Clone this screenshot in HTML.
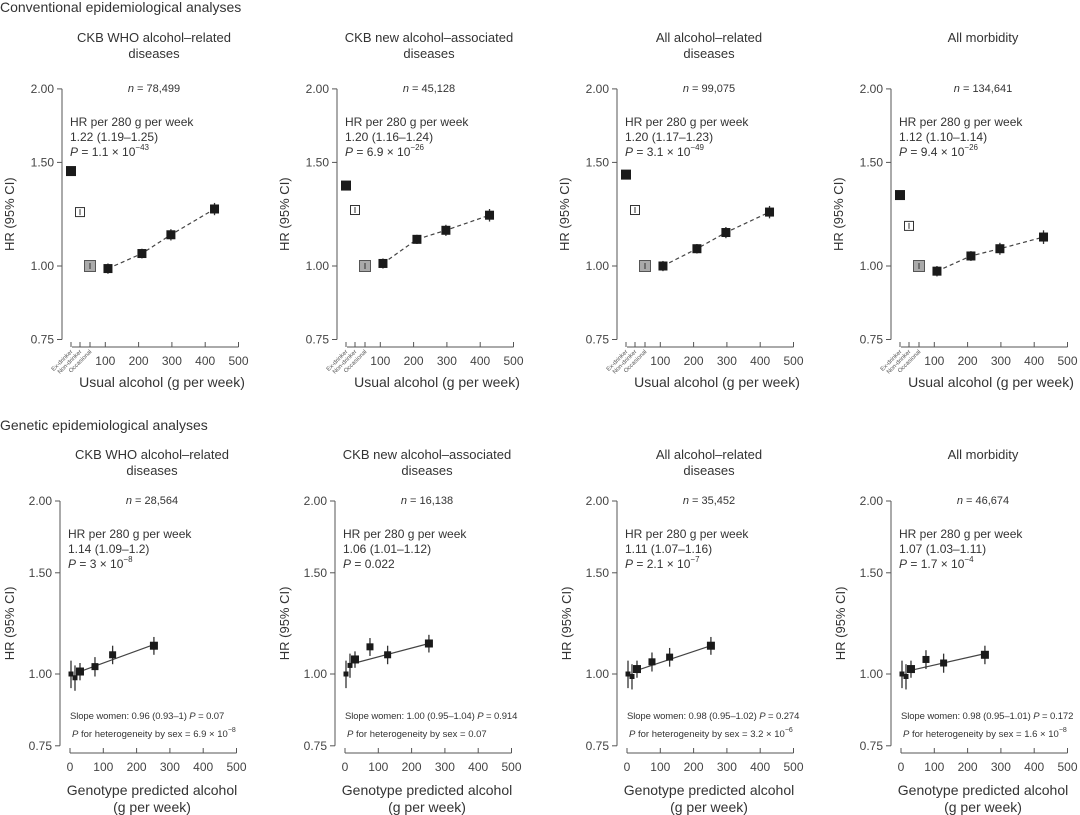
<!DOCTYPE html>
<html><head><meta charset="utf-8">
<style>
html,body{margin:0;padding:0;background:#fff;}
svg{display:block;font-family:"Liberation Sans",sans-serif;}
</style></head>
<body>
<svg id="c" width="1080" height="815" viewBox="0 0 1080 815"></svg>
<script>
// ---- Data ----
const titles1 = ["CKB WHO alcohol\u2013related", "CKB new alcohol\u2013associated", "All alcohol\u2013related", "All morbidity"];
const titles2 = ["diseases", "diseases", "diseases", ""];
const nTop = ["78,499", "45,128", "99,075", "134,641"];
const hrTop = ["1.22 (1.19\u20131.25)", "1.20 (1.16\u20131.24)", "1.20 (1.17\u20131.23)", "1.12 (1.10\u20131.14)"];
const pTopMant = ["1.1", "6.9", "3.1", "9.4"];
const pTopExp = ["\u221243", "\u221226", "\u221249", "\u221226"];
const exDrinker = [1.45, 1.37, 1.43, 1.32];
const nonDrinker = [1.235, 1.245, 1.245, 1.17];
const occasional = [1.00, 1.00, 1.00, 1.00];
const intakeX = [108, 210, 297, 428];
const intakeHR = [
  [0.99, 1.05, 1.13, 1.25],
  [1.01, 1.11, 1.15, 1.22],
  [1.00, 1.07, 1.14, 1.235],
  [0.98, 1.04, 1.07, 1.12]
];
const intakeCI = [0.02, 0.02, 0.025, 0.03];
const nBot = ["28,564", "16,138", "35,452", "46,674"];
const hrBot = ["1.14 (1.09\u20131.2)", "1.06 (1.01\u20131.12)", "1.11 (1.07\u20131.16)", "1.07 (1.03\u20131.11)"];
const pBotText = ["3 \u00d7 10", "0.022", "2.1 \u00d7 10", "1.7 \u00d7 10"];
const pBotExp = ["\u22128", "", "\u22127", "\u22124"];
const slopeText = ["0.96 (0.93\u20131)", "1.00 (0.95\u20131.04)", "0.98 (0.95\u20131.02)", "0.98 (0.95\u20131.01)"];
const slopeP = ["0.07", "0.914", "0.274", "0.172"];
const hetText = ["6.9 \u00d7 10", "0.07", "3.2 \u00d7 10", "1.6 \u00d7 10"];
const hetExp = ["\u22128", "", "\u22126", "\u22128"];
const genoX = [3, 15, 30, 75, 128, 252];
const genoHR = [
  [1.00, 0.985, 1.01, 1.03, 1.08, 1.12],
  [1.00, 1.035, 1.06, 1.115, 1.08, 1.13],
  [1.00, 0.99, 1.02, 1.05, 1.07, 1.12],
  [1.00, 0.99, 1.02, 1.06, 1.045, 1.08]
];
const genoCI = [0.055, 0.05, 0.035, 0.04, 0.04, 0.04];
const fitBot = [[1.01, 1.125], [1.045, 1.13], [1.015, 1.12], [1.015, 1.085]];
const xTicks = [0, 100, 200, 300, 400, 500];
const yTicks = [0.75, 1.00, 1.50, 2.00];
const yTickLabels = ["0.75", "1.00", "1.50", "2.00"];
const catLabels = ["Ex-drinker", "Non-drinker", "Occasional"];

const svg = document.getElementById('c');
const NS = 'http://www.w3.org/2000/svg';
function mk(tag, attrs, parent) {
  const e = document.createElementNS(NS, tag);
  for (const k in attrs) e.setAttribute(k, attrs[k]);
  (parent || svg).appendChild(e);
  return e;
}
function txt(x, y, s, size, anchor, parent, fill) {
  const t = mk('text', {x: x, y: y, 'font-size': size, 'text-anchor': anchor || 'start', fill: fill || '#333'}, parent);
  t.textContent = s;
  return t;
}

let h = txt(0, 12, "Conventional epidemiological analyses", 14);


h = txt(0, 430, "Genetic epidemiological analyses", 14);



const topOff = [0, 275, 555, 829];
const botOff = [0, 275, 557, 831];

function panel(i, top) {
  const ox = top ? topOff[i] : botOff[i];
  const g = mk('g', {});
  
  
  const axX = ox + (top ? 62 : 60);
  const y1 = top ? 266 : 674;
  const k = top ? 255.5 : 249.6;
  const xAxY = top ? 347 : 753;
  const x0 = axX + 10;
  const xs = 0.333;
  const Y = v => y1 - Math.log(v) * k;
  const X = v => x0 + v * xs;
  const cx = axX + 92;
  const tTop = top ? 42 : 459;
  let t = txt(cx, tTop, titles1[i], 13, 'middle', g);
  
  
  if (titles2[i]) {
    t = txt(cx, tTop + 16, titles2[i], 13, 'middle', g);
    
    
  }
  t = mk('text', {x: cx, y: Y(2) + 3, 'font-size': 11, 'text-anchor': 'middle', fill: '#333'}, g);
  
  
  t.innerHTML = '<tspan font-style="italic">n</tspan> = ' + (top ? nTop[i] : nBot[i]);
  let a = mk('line', {x1: axX, x2: axX, y1: Y(2), y2: Y(0.75), stroke: '#555', 'stroke-width': 1}, g);
  
  
  yTicks.forEach((v, j) => {
    mk('line', {x1: axX - 5, x2: axX, y1: Y(v), y2: Y(v), stroke: '#555'}, g);
    const l = txt(axX - 8, Y(v) + 4, yTickLabels[j], 12, 'end', g, '#444');
    
    
  });
  const yt = txt(0, 0, "HR (95% CI)", 13, 'middle', g);
  yt.setAttribute('transform', 'translate(' + (ox + 14) + ',' + ((Y(2) + Y(0.75)) / 2) + ') rotate(-90)');
  
  
  a = mk('line', {x1: X(0), x2: X(500), y1: xAxY, y2: xAxY, stroke: '#555'}, g);
  
  
  xTicks.forEach(v => {
    if (top && v === 0) return;
    mk('line', {x1: X(v), x2: X(v), y1: xAxY - 5, y2: xAxY, stroke: '#555'}, g);
    const l = txt(X(v), xAxY + 18, String(v), 12, 'middle', g, '#444');
    
    
  });
  const catX = [X(0) - 1, X(0) + 8, X(0) + 18];
  if (top) {
    catX.forEach((cxx, j) => {
      mk('line', {x1: cxx, x2: cxx, y1: xAxY - 5, y2: xAxY, stroke: '#555'}, g);
      const l = txt(0, 0, catLabels[j], 6, 'end', g, '#555');
      l.setAttribute('transform', 'translate(' + (cxx + 2) + ',' + (xAxY + 5) + ') rotate(-45)');
      
      
    });
    const xt = txt(X(0) + 90, xAxY + 40, "Usual alcohol (g per week)", 14, 'middle', g);
    
    
  } else {
    let xt = txt(X(0) + 82, xAxY + 42, "Genotype predicted alcohol", 14, 'middle', g);
    
    
    xt = txt(X(0) + 82, xAxY + 59, "(g per week)", 14, 'middle', g);
    
    
  }
  const hy = Y(2) + 37;
  t = txt(axX + 8, hy, "HR per 280 g per week", 12, 'start', g);
  
  
  t = txt(axX + 8, hy + 15, top ? hrTop[i] : hrBot[i], 12, 'start', g);
  
  
  t = mk('text', {x: axX + 8, y: hy + 30, 'font-size': 12, fill: '#333'}, g);
  
  
  if (top) {
    t.innerHTML = '<tspan font-style="italic">P</tspan> = ' + pTopMant[i] + ' \u00d7 10<tspan font-size="8" dy="-6">' + pTopExp[i] + '</tspan>';
  } else {
    t.innerHTML = '<tspan font-style="italic">P</tspan> = ' + pBotText[i] + (pBotExp[i] ? '<tspan font-size="8" dy="-6">' + pBotExp[i] + '</tspan>' : '');
  }
  if (top) {
    const pts = intakeX.map((v, j) => X(v) + ',' + Y(intakeHR[i][j])).join(' ');
    let ln = mk('polyline', {points: pts, fill: 'none', stroke: '#444', 'stroke-width': 1.2, 'stroke-dasharray': '4,3'}, g);
    
    
    const cats = [[exDrinker[i], '#1a1a1a', '#1a1a1a', 9], [nonDrinker[i], '#fff', '#333', 9], [occasional[i], '#aaa', '#555', 11]];
    cats.forEach((c, j) => {
      const px = catX[j], py = Y(c[0]);
      mk('line', {x1: px, x2: px, y1: Y(c[0] * 1.015), y2: Y(c[0] / 1.015), stroke: '#333'}, g);
      const r = mk('rect', {x: px - c[3] / 2, y: py - c[3] / 2, width: c[3], height: c[3], fill: c[1], stroke: c[2], 'stroke-width': 1}, g);
      
      
      if (j > 0) mk('line', {x1: px, x2: px, y1: py - 3, y2: py + 3, stroke: '#333'}, g);
    });
    intakeX.forEach((v, j) => {
      const px = X(v), hr = intakeHR[i][j];
      mk('line', {x1: px, x2: px, y1: Y(hr + intakeCI[j]), y2: Y(hr - intakeCI[j]), stroke: '#333', 'stroke-width': 1.3}, g);
      const r = mk('rect', {x: px - 4.5, y: Y(hr) - 4.5, width: 9, height: 9, fill: '#1a1a1a'}, g);
      
      
    });
  } else {
    let ln = mk('line', {x1: X(genoX[2]), y1: Y(fitBot[i][0]), x2: X(genoX[5]), y2: Y(fitBot[i][1]), stroke: '#444', 'stroke-width': 1.2}, g);
    
    
    const sizes = [5, 5, 8, 7, 7, 8];
    genoX.forEach((v, j) => {
      const px = X(v), hr = genoHR[i][j];
      mk('line', {x1: px, x2: px, y1: Y(hr + genoCI[j]), y2: Y(hr - genoCI[j]), stroke: '#333', 'stroke-width': 1.3}, g);
      const s = sizes[j];
      const r = mk('rect', {x: px - s / 2, y: Y(hr) - s / 2, width: s, height: s, fill: '#1a1a1a'}, g);
      
      
    });
    t = mk('text', {x: axX + 10, y: 719, 'font-size': 9.5, fill: '#333', 'letter-spacing': '-0.1'}, g);
    
    
    t.innerHTML = 'Slope women: ' + slopeText[i] + '  <tspan font-style="italic">P</tspan> = ' + slopeP[i];
    t = mk('text', {x: axX + 12, y: 737, 'font-size': 9.5, fill: '#333'}, g);
    
    
    t.innerHTML = '<tspan font-style="italic">P</tspan> for heterogeneity by sex = ' + hetText[i] + (hetExp[i] ? '<tspan font-size="7" dy="-5">' + hetExp[i] + '</tspan>' : '');
  }
}
for (let i = 0; i < 4; i++) { panel(i, true); panel(i, false); }
</script>
</body></html>
